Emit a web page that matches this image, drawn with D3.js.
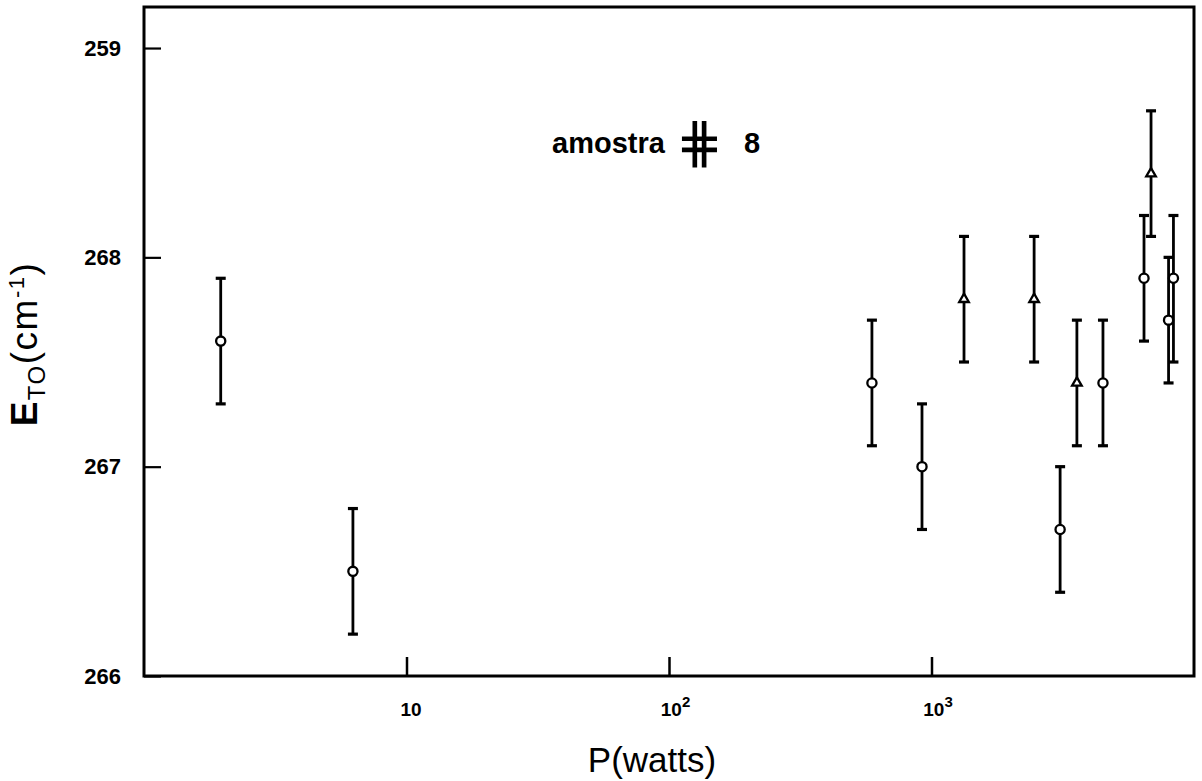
<!DOCTYPE html>
<html>
<head>
<meta charset="utf-8">
<script src="https://cdn.jsdelivr.net/npm/d3@7"></script>
<style>
  html, body { margin: 0; padding: 0; background: #fff; }
  svg { display: block; }
</style>
</head>
<body>
<svg id="chart" width="1202" height="781"></svg>
<script>
// ---- data ----
const power   = [1.96, 6.25, 593, 920, 1330, 2460, 3090, 3580, 4500, 6450, 6860, 8000, 8350];
const energy  = [267.6, 266.5, 267.4, 267.0, 267.8, 267.8, 266.7, 267.4, 267.4, 267.9, 268.4, 267.7, 267.9];
const errLow  = [267.3, 266.2, 267.1, 266.7, 267.5, 267.5, 266.4, 267.1, 267.1, 267.6, 268.1, 267.4, 267.5];
const errHigh = [267.9, 266.8, 267.7, 267.3, 268.1, 268.1, 267.0, 267.7, 267.7, 268.2, 268.7, 268.0, 268.2];
const markers = ["circle","circle","circle","circle","triangle","triangle","circle","triangle","circle","circle","triangle","circle","circle"];

const yTicks = [266, 267, 268, 269];
const yTickLabels = ["266", "267", "268", "259"];
const xTicks = [10, 100, 1000];
const xTickBase = ["10", "10", "10"];
const xTickExp = ["", "2", "3"];

const svg = d3.select("#chart");
const x = d3.scaleLog().domain([1, 10000]).range([144, 1194]);
const y = d3.scaleLinear().domain([266, 269.196]).range([676, 7]);

const font = "'Liberation Sans', Arial, sans-serif";

// frame
svg.append("rect")
  .attr("x", x.range()[0]).attr("y", y.range()[1])
  .attr("width", x.range()[1] - x.range()[0])
  .attr("height", y.range()[0] - y.range()[1])
  .attr("fill", "none").attr("stroke", "#000").attr("stroke-width", 3);

// y axis
const yAxis = svg.append("g")
  .attr("transform", `translate(${x.range()[0]},0)`)
  .call(d3.axisLeft(y).tickValues(yTicks)
    .tickFormat((d, i) => yTickLabels[i])
    .tickSizeInner(-17).tickSizeOuter(0).tickPadding(23));
yAxis.select(".domain").remove();
yAxis.selectAll(".tick line").attr("stroke-width", 2.2);
yAxis.selectAll(".tick text")
  .attr("font-family", font).attr("font-weight", "bold")
  .attr("font-size", 22).attr("fill", "#000");

// x axis
const xAxis = svg.append("g")
  .attr("transform", `translate(0,${y.range()[0]})`)
  .call(d3.axisBottom(x).tickValues(xTicks)
    .tickFormat("")
    .tickSizeInner(-19).tickSizeOuter(0).tickPadding(27));
xAxis.select(".domain").remove();
xAxis.selectAll(".tick line").attr("stroke-width", 2.5);
xAxis.selectAll(".tick text").each(function(d, i) {
  const t = d3.select(this)
    .attr("font-family", font).attr("font-weight", "bold")
    .attr("font-size", 19).attr("fill", "#000")
    .attr("text-anchor", "middle")
    .attr("dx", xTickExp[i] ? 6 : 4);
  t.append("tspan").text(xTickBase[i]);
  if (xTickExp[i]) {
    t.append("tspan").attr("dy", -9).attr("font-size", 15).text(xTickExp[i]);
  }
});

// error bars
const g = svg.append("g");
const capW = 10;
power.forEach((p, i) => {
  const cx = x(p);
  g.append("line")
    .attr("x1", cx).attr("x2", cx)
    .attr("y1", y(errLow[i])).attr("y2", y(errHigh[i]))
    .attr("stroke", "#000").attr("stroke-width", 2.8);
  [errLow[i], errHigh[i]].forEach(v => {
    g.append("line")
      .attr("x1", cx - capW / 2).attr("x2", cx + capW / 2)
      .attr("y1", y(v)).attr("y2", y(v))
      .attr("stroke", "#000").attr("stroke-width", 3.2);
  });
});

// markers
power.forEach((p, i) => {
  const cx = x(p), cy = y(energy[i]);
  if (markers[i] === "circle") {
    g.append("circle").attr("cx", cx).attr("cy", cy).attr("r", 4.6)
      .attr("fill", "#fff").attr("stroke", "#000").attr("stroke-width", 2.3);
  } else {
    g.append("path")
      .attr("d", d3.symbol().type(d3.symbolTriangle).size(40)())
      .attr("transform", `translate(${cx},${cy})`)
      .attr("fill", "#fff").attr("stroke", "#000").attr("stroke-width", 2.3);
  }
});

// annotation: "amostra ⋕ 8"
const ann = svg.append("text")
  .attr("y", 153)
  .attr("font-family", font).attr("font-weight", "bold")
  .attr("font-size", 29).attr("fill", "#000");
ann.append("tspan").attr("x", 552).text("amostra");
ann.append("tspan").attr("x", 676).attr("dy", 9)
  .attr("font-family", "'DejaVu Sans', sans-serif")
  .attr("font-weight", "normal").attr("font-size", 56).text("⋕");
ann.append("tspan").attr("x", 744).attr("dy", -9).text("8");

// x title
svg.append("text")
  .attr("x", 652).attr("y", 772)
  .attr("text-anchor", "middle")
  .attr("font-family", font).attr("font-size", 35).attr("fill", "#000")
  .text("P(watts)");

// y title
const yt = svg.append("text")
  .attr("transform", "translate(37,344) rotate(-90)")
  .attr("text-anchor", "middle")
  .attr("letter-spacing", 1.5)
  .attr("font-family", font).attr("font-size", 37).attr("fill", "#000");
yt.append("tspan").attr("font-weight", "bold").text("E");
yt.append("tspan").attr("font-size", 24).attr("dy", 8).text("TO");
yt.append("tspan").attr("dy", -8).text("(cm");
yt.append("tspan").attr("font-size", 22).attr("dy", -13).text("-1");
yt.append("tspan").attr("dy", 13).text(")");
</script>
</body>
</html>
